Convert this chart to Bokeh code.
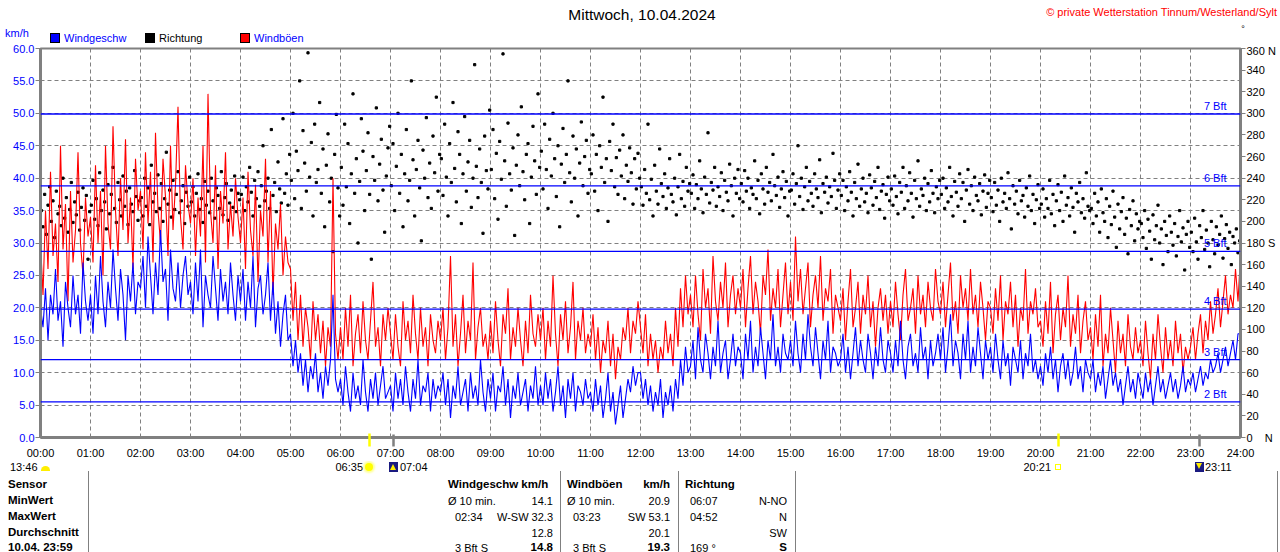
from bokeh.plotting import figure
from bokeh.models import (Range1d, LinearAxis, FixedTicker, Span, Label, Div,
                          PrintfTickFormatter, CustomJSTickFormatter)
from bokeh.layouts import column
from bokeh.embed import file_html
from bokeh.resources import INLINE

FONT = "Liberation Sans"

# ---------------- data ----------------
hours = list(range(25))
hour_labels = {h: f"{h:02d}:00" for h in hours}
kmh_ticks = list(range(0, 61, 5))
dir_ticks = list(range(0, 361, 20))
dir_labels = {0: "0\u00a0\u00a0\u00a0\u00a0N", 180: "180\u00a0S", 360: "360\u00a0N"}

bft_levels = [5.5, 12.0, 19.8, 28.7, 38.8, 49.9]
bft_names = ["2 Bft", "3 Bft", "4 Bft", "5 Bft", "6 Bft", "7 Bft"]

# wind speed km/h, 3-minute steps (20 per hour)
speed_h = [
    [20, 17, 23, 15, 22, 19, 26, 18, 21, 14, 24, 20, 17, 25, 19, 22, 16, 27, 21, 18],
    [22, 16, 25, 19, 28, 21, 17, 24, 20, 29, 23, 18, 26, 22, 15, 25, 21, 27, 19, 24],
    [23, 28, 20, 31, 25, 19, 27, 22, 32, 24, 26, 18, 29, 23, 21, 27, 20, 25, 28, 22],
    [24, 19, 27, 21, 29, 17, 25, 22, 20, 28, 23, 18, 26, 21, 24, 19, 27, 22, 18, 25],
    [21, 26, 18, 24, 20, 28, 17, 23, 25, 19, 22, 27, 18, 24, 16, 21, 14, 19, 22, 15],
    [16, 11, 15, 10, 13, 8, 12, 7, 11, 9, 13, 7, 10, 6, 11, 8, 12, 22, 9, 7],
    [9, 5, 11, 7, 4, 10, 6, 8, 5, 12, 7, 4, 9, 6, 10, 5, 8, 11, 6, 7],
    [8, 4, 10, 6, 9, 5, 11, 7, 4, 9, 6, 12, 5, 8, 7, 10, 4, 9, 6, 8],
    [7, 10, 5, 9, 3, 8, 6, 11, 5, 7, 9, 4, 10, 6, 8, 5, 12, 7, 4, 9],
    [6, 10, 4, 8, 7, 11, 5, 9, 3, 8, 6, 10, 5, 7, 9, 4, 8, 6, 11, 5],
    [8, 5, 10, 6, 9, 4, 7, 11, 5, 8, 3, 9, 6, 10, 4, 8, 7, 5, 9, 6],
    [7, 4, 9, 5, 8, 3, 6, 10, 4, 7, 2, 5, 8, 3, 6, 9, 7, 11, 8, 10],
    [10, 6, 9, 5, 8, 4, 7, 5, 9, 3, 7, 5, 8, 4, 9, 6, 12, 8, 14, 10],
    [11, 15, 9, 17, 12, 10, 16, 13, 9, 14, 11, 18, 10, 13, 15, 9, 12, 16, 11, 14],
    [13, 9, 16, 12, 18, 10, 14, 11, 17, 13, 9, 15, 12, 19, 11, 14, 10, 16, 13, 12],
    [15, 11, 18, 13, 10, 16, 12, 19, 14, 11, 17, 13, 9, 15, 12, 18, 10, 14, 13, 11],
    [12, 16, 10, 14, 9, 13, 17, 11, 15, 12, 10, 16, 13, 9, 14, 11, 17, 12, 10, 15],
    [13, 10, 15, 11, 18, 12, 9, 14, 16, 11, 13, 10, 17, 12, 14, 9, 15, 11, 13, 16],
    [12, 17, 10, 14, 19, 11, 15, 13, 9, 16, 12, 18, 10, 14, 11, 17, 13, 9, 15, 12],
    [14, 10, 16, 12, 9, 15, 11, 13, 8, 14, 12, 10, 15, 9, 13, 11, 16, 10, 12, 9],
    [11, 8, 13, 10, 14, 9, 12, 7, 11, 13, 9, 12, 8, 10, 14, 9, 11, 7, 12, 10],
    [9, 12, 7, 10, 8, 11, 6, 9, 12, 8, 10, 7, 9, 5, 8, 11, 7, 9, 6, 10],
    [8, 6, 10, 7, 9, 5, 8, 11, 7, 9, 6, 8, 10, 7, 9, 6, 8, 11, 7, 9],
    [8, 10, 7, 9, 11, 8, 10, 9, 12, 10, 11, 13, 10, 12, 14, 11, 13, 15, 12, 16],
]
speed_end = 16

# gusts km/h, 3-minute steps
gust_h = [
    [30, 22, 35, 26, 41, 28, 33, 24, 45, 29, 36, 21, 38, 27, 32, 44, 30, 25, 37, 31],
    [34, 27, 42, 30, 38, 25, 45, 33, 29, 48, 35, 28, 40, 32, 46, 30, 37, 26, 43, 35],
    [38, 29, 44, 33, 41, 27, 47, 35, 30, 43, 37, 28, 45, 32, 39, 51, 34, 29, 42, 36],
    [33, 40, 28, 37, 31, 45, 27, 53, 35, 30, 42, 26, 38, 33, 44, 29, 36, 31, 40, 34],
    [30, 37, 26, 41, 32, 28, 39, 24, 35, 31, 43, 27, 38, 22, 33, 29, 36, 25, 31, 27],
    [26, 18, 24, 15, 22, 14, 20, 17, 12, 21, 15, 19, 13, 18, 11, 17, 14, 40, 16, 12],
    [17, 12, 20, 14, 22, 11, 16, 19, 13, 21, 15, 12, 18, 24, 14, 17, 11, 19, 15, 20],
    [16, 12, 19, 14, 11, 21, 15, 18, 13, 22, 16, 12, 20, 14, 17, 11, 19, 15, 13, 18],
    [15, 20, 12, 17, 28, 14, 19, 11, 16, 22, 13, 18, 15, 27, 12, 17, 20, 14, 16, 12],
    [18, 13, 21, 15, 11, 19, 16, 23, 12, 17, 14, 20, 15, 11, 18, 13, 22, 16, 14, 19],
    [15, 20, 12, 18, 14, 25, 16, 11, 19, 15, 21, 13, 17, 24, 12, 18, 15, 20, 13, 16],
    [14, 19, 12, 17, 10, 15, 13, 18, 11, 16, 9, 14, 12, 17, 15, 20, 13, 18, 16, 21],
    [17, 13, 19, 11, 16, 12, 15, 10, 14, 12, 18, 13, 16, 11, 20, 14, 23, 17, 25, 19],
    [22, 17, 25, 19, 15, 26, 20, 23, 16, 28, 21, 18, 24, 20, 27, 17, 22, 25, 19, 23],
    [20, 26, 17, 23, 28, 19, 24, 21, 16, 25, 22, 29, 18, 23, 20, 26, 17, 22, 27, 19],
    [24, 18, 31, 21, 26, 19, 23, 27, 17, 22, 25, 20, 28, 18, 23, 21, 26, 16, 22, 20],
    [18, 23, 15, 21, 26, 17, 20, 24, 16, 22, 19, 25, 17, 21, 14, 20, 23, 18, 22, 16],
    [21, 17, 24, 19, 15, 22, 26, 18, 20, 23, 16, 25, 19, 22, 17, 24, 20, 18, 26, 21],
    [19, 24, 17, 22, 27, 18, 21, 16, 25, 20, 23, 18, 26, 19, 22, 17, 24, 20, 15, 21],
    [20, 16, 23, 18, 25, 15, 21, 19, 24, 17, 22, 14, 20, 18, 26, 16, 21, 19, 23, 17],
    [18, 14, 21, 16, 24, 13, 19, 22, 15, 20, 17, 25, 14, 19, 16, 22, 13, 18, 21, 15],
    [17, 12, 19, 14, 22, 11, 16, 13, 20, 15, 10, 18, 13, 16, 11, 19, 14, 12, 17, 13],
    [15, 11, 18, 13, 9, 16, 12, 19, 14, 10, 17, 12, 15, 11, 18, 13, 16, 10, 14, 12],
    [14, 17, 12, 16, 19, 13, 18, 15, 21, 16, 19, 23, 17, 21, 25, 19, 22, 20, 26, 21],
]
gust_end = 28

# wind direction in degrees, 2-minute samples (30 per hour)
dir_h = [
    [210, 195, 225, 188, 215, 232, 200, 219, 185, 228, 207, 214, 196, 240, 203, 222, 190, 211, 236, 199, 218, 206, 227, 192, 213, 231, 201, 224, 165, 209],
    [215, 238, 202, 221, 196, 245, 210, 229, 218, 193, 234, 207, 225, 250, 212, 199, 236, 220, 205, 242, 214, 228, 197, 231, 216, 209, 247, 223, 201, 219],
    [222, 205, 240, 214, 231, 197, 252, 218, 226, 209, 243, 212, 235, 200, 221, 264, 216, 229, 204, 238, 211, 225, 246, 208, 219, 233, 198, 227, 214, 241],
    [218, 232, 205, 226, 244, 211, 221, 199, 237, 215, 228, 208, 240, 219, 203, 231, 224, 212, 246, 206, 222, 235, 201, 217, 229, 213, 242, 209, 226, 220],
    [225, 241, 210, 232, 218, 250, 227, 205, 238, 221, 246, 214, 233, 270, 219, 228, 240, 212, 285, 224, 236, 209, 255, 230, 217, 295, 226, 244, 215, 262],
    [238, 300, 221, 265, 247, 330, 212, 284, 254, 228, 356, 241, 273, 205, 290, 236, 248, 310, 226, 267, 195, 252, 281, 218, 240, 172, 262, 299, 231, 205],
    [250, 215, 290, 232, 272, 198, 244, 318, 226, 258, 180, 237, 295, 265, 210, 247, 282, 225, 165, 260, 238, 305, 219, 253, 276, 229, 190, 242, 268, 288],
    [233, 272, 210, 251, 300, 226, 262, 195, 244, 285, 219, 238, 330, 257, 205, 248, 275, 231, 182, 266, 240, 296, 222, 254, 212, 279, 245, 315, 228, 262],
    [258, 224, 290, 241, 205, 272, 236, 310, 249, 218, 283, 262, 198, 244, 297, 228, 255, 275, 213, 240, 345, 251, 222, 267, 236, 189, 279, 247, 230, 303],
    [248, 285, 221, 263, 202, 274, 239, 355, 256, 214, 291, 244, 229, 268, 187, 252, 280, 233, 306, 246, 220, 262, 272, 198, 241, 288, 256, 225, 318, 250],
    [265, 230, 290, 248, 212, 276, 242, 300, 258, 223, 270, 195, 253, 286, 236, 262, 330, 245, 218, 279, 240, 267, 205, 254, 292, 233, 260, 275, 226, 248],
    [244, 280, 228, 262, 210, 270, 250, 315, 236, 258, 200, 274, 247, 290, 232, 259, 225, 266, 242, 280, 221, 252, 237, 268, 245, 216, 258, 230, 263, 240],
    [232, 215, 248, 226, 290, 220, 239, 205, 252, 228, 216, 267, 235, 223, 244, 212, 231, 258, 225, 218, 240, 206, 232, 262, 221, 237, 214, 250, 228, 235],
    [226, 243, 212, 234, 221, 256, 230, 208, 241, 225, 282, 217, 236, 229, 250, 214, 232, 223, 245, 210, 238, 227, 219, 253, 233, 205, 240, 226, 248, 221],
    [235, 218, 247, 228, 240, 212, 231, 225, 256, 221, 238, 207, 244, 230, 216, 250, 227, 236, 219, 262, 233, 224, 241, 213, 230, 246, 222, 237, 205, 228],
    [229, 244, 216, 235, 270, 223, 240, 211, 232, 250, 219, 237, 226, 214, 244, 230, 222, 257, 208, 235, 227, 241, 217, 232, 223, 263, 238, 212, 229, 244],
    [224, 238, 210, 232, 219, 246, 227, 205, 236, 221, 253, 214, 230, 240, 218, 226, 208, 243, 231, 215, 237, 222, 250, 211, 228, 234, 203, 225, 241, 219],
    [230, 215, 242, 223, 207, 236, 227, 250, 212, 233, 219, 245, 226, 204, 238, 221, 256, 214, 230, 224, 240, 210, 235, 218, 247, 226, 208, 232, 221, 238],
    [225, 240, 212, 231, 218, 250, 223, 205, 237, 227, 214, 244, 221, 236, 200, 229, 248, 216, 233, 210, 241, 224, 219, 235, 206, 228, 243, 213, 226, 238],
    [222, 209, 236, 215, 229, 200, 240, 218, 226, 212, 245, 221, 193, 233, 216, 228, 207, 238, 219, 224, 204, 231, 214, 242, 210, 225, 198, 220, 234, 212],
    [216, 230, 204, 221, 212, 238, 207, 225, 196, 219, 234, 210, 227, 200, 242, 215, 222, 205, 231, 213, 190, 226, 218, 236, 208, 221, 203, 245, 214, 210],
    [212, 198, 226, 205, 218, 190, 230, 208, 200, 221, 185, 214, 197, 228, 204, 176, 216, 193, 209, 222, 188, 203, 170, 211, 196, 219, 182, 207, 193, 200],
    [198, 185, 210, 175, 202, 191, 165, 206, 183, 196, 215, 180, 193, 160, 200, 187, 172, 205, 190, 178, 198, 168, 186, 210, 181, 194, 155, 188, 200, 176],
    [190, 172, 203, 181, 165, 196, 185, 210, 174, 192, 180, 158, 200, 183, 170, 195, 178, 188, 205, 166, 184, 197, 175, 190, 160, 186, 180, 193, 171, 182],
]

speed = [v for row in speed_h for v in row] + [speed_end]
gust = [v for row in gust_h for v in row] + [gust_end]
direction = [v for row in dir_h for v in row]
t_speed = [i / 20 for i in range(len(speed))]
t_dir = [(i + 0.5) / 30 for i in range(len(direction))]

# sun / moon times (hours)
sunrise, sunset = 6 + 35 / 60, 20 + 21 / 60
moonrise, moonset = 7 + 4 / 60, 23 + 11 / 60

# statistics table
row_names = ["Sensor", "MinWert", "MaxWert", "Durchschnitt", "10.04. 23:59"]

GRAY = "#808080"
BLUE = "#0000FF"
RED = "#FF0000"
YELLOW = "#FFFF00"
NAVY = "#1a1a80"
W = 1280
TOP_H = 44          # header strip height
MAIN_TOP = 4
FRAME_H = 389
MAIN_BOTTOM = 24
BOT_Y0 = TOP_H + MAIN_TOP + FRAME_H + MAIN_BOTTOM
X0, PX_PER_H = 40, 50   # time axis position (page px) for the sun/moon icons
SUN_ROW = 467


# ---------------- html helpers for header / table strips ----------------
def t(s, X, Y, y0, size=11, color="black", bold=False, align="left"):
    top = Y - y0 - size / 2
    st = (f"position:absolute;top:{top:.1f}px;font-size:{size}px;line-height:{size}px;"
          f"color:{color};white-space:nowrap;font-weight:{'bold' if bold else 'normal'};")
    if align == "left":
        st += f"left:{X}px;"
    elif align == "right":
        st += f"right:{W - X}px;"
    else:
        st += f"left:{X}px;transform:translateX(-50%);"
    return f'<span style="{st}">{s}</span>'


def box(X, Y, w, h, y0, bg="none", border="none", extra=""):
    return (f'<span style="position:absolute;left:{X - w / 2:.1f}px;top:{Y - y0 - h / 2:.1f}px;'
            f'width:{w}px;height:{h}px;background:{bg};border:{border};box-sizing:border-box;'
            f'{extra}"></span>')


def strip(elems, h):
    html = (f'<div style="position:relative;width:{W}px;height:{h}px;overflow:hidden;'
            f'font-family:\'{FONT}\';background:white;">' + "".join(elems) + "</div>")
    return Div(text=html, width=W, height=h, margin=0, styles={"margin": "0", "padding": "0"})


# ---------------- header strip ----------------
hdr = [
    t("Mittwoch, 10.04.2024", 642, 15, 0, size=15.5, align="center"),
    t("\u00a9 private Wetterstation Tinnum/Westerland/Sylt", 1277, 12, 0, color=RED, align="right"),
    t("\u00b0", 1243, 29, 0, size=9, align="center"),
    t("km/h", 5, 33, 0, color=BLUE),
    box(55, 37.5, 10, 10, 0, bg=BLUE, border="1px solid black"),
    t("Windgeschw", 64, 38, 0, color=BLUE),
    box(150, 37.5, 10, 10, 0, bg="black", border="1px solid black"),
    t("Richtung", 159, 38, 0),
    box(245, 37.5, 10, 10, 0, bg=RED, border="1px solid black"),
    t("Windb\u00f6en", 254, 38, 0, color=BLUE),
]
top = strip(hdr, TOP_H)

# ---------------- main chart ----------------
p = figure(frame_width=1200, frame_height=FRAME_H,
           x_range=Range1d(0, 24), y_range=Range1d(0, 60),
           output_backend="svg", toolbar_location=None,
           min_border_left=40, min_border_right=40, min_border_top=MAIN_TOP,
           min_border_bottom=MAIN_BOTTOM,
           background_fill_color="white", border_fill_color="white")
p.extra_y_ranges = {"dir": Range1d(0, 360)}
p.outline_line_color = GRAY
p.outline_line_width = 2

# axis next to the frame: sun (yellow) and moon (gray) markers
xa = p.xaxis[0]
xa.ticker = FixedTicker(ticks=[sunrise, sunset], minor_ticks=[moonrise, moonset])
xa.formatter = CustomJSTickFormatter(code="return ''")
xa.major_label_text_font_size = "1px"
xa.major_label_standoff = 0
xa.major_tick_line_color = YELLOW
xa.major_tick_line_width = 2.5
xa.major_tick_out = 9
xa.major_tick_in = 4
xa.minor_tick_line_color = GRAY
xa.minor_tick_line_width = 2.5
xa.minor_tick_out = 9
xa.minor_tick_in = 3
xa.axis_line_color = GRAY
xa.axis_line_width = 3

# hour labels
hb = LinearAxis(ticker=FixedTicker(ticks=hours))
hb.major_label_overrides = hour_labels
hb.axis_line_color = None
hb.major_tick_line_color = None
hb.minor_tick_line_color = None
hb.major_tick_out = 0
hb.major_tick_in = 0
hb.major_label_standoff = 0
hb.major_label_text_font = FONT
hb.major_label_text_font_size = "11px"
hb.major_label_text_color = "black"
p.add_layout(hb, "below")

# left axis
ya = p.yaxis[0]
ya.ticker = FixedTicker(ticks=kmh_ticks)
ya.formatter = PrintfTickFormatter(format="%.1f")
ya.major_tick_out = 5
ya.major_tick_in = 0
ya.major_tick_line_color = GRAY
ya.minor_tick_line_color = None
ya.axis_line_color = GRAY
ya.axis_line_width = 3
ya.major_label_standoff = 1
ya.major_label_text_font = FONT
ya.major_label_text_font_size = "11px"
ya.major_label_text_color = BLUE

# right axis
ra = LinearAxis(y_range_name="dir", ticker=FixedTicker(ticks=dir_ticks))
ra.major_label_overrides = dir_labels
ra.major_tick_out = 5
ra.major_tick_in = 0
ra.major_tick_line_color = GRAY
ra.minor_tick_line_color = None
ra.axis_line_color = GRAY
ra.axis_line_width = 3
ra.major_label_standoff = 1
ra.major_label_text_font = FONT
ra.major_label_text_font_size = "11px"
ra.major_label_text_color = "black"
p.add_layout(ra, "right")

p.xgrid[0].ticker = FixedTicker(ticks=hours)
for g in (p.xgrid[0], p.ygrid[0]):
    g.grid_line_color = GRAY
    g.grid_line_dash = "4 3"
    g.grid_line_width = 1

# Beaufort lines
for lev, name in zip(bft_levels, bft_names):
    p.add_layout(Span(location=lev, dimension="width", line_color=BLUE, line_width=1.3))
    p.add_layout(Label(x=1186, y=lev, x_units="screen", y_units="data", y_offset=2,
                       text=name, text_align="right", text_baseline="bottom",
                       text_color=BLUE, text_font=FONT, text_font_size="11px"))

# data
p.scatter(t_dir, direction, y_range_name="dir", marker="square", size=2.2,
          color="black")
p.line(t_speed, gust, line_color=RED, line_width=1.1)
p.line(t_speed, speed, line_color=BLUE, line_width=1.1)

# ---------------- bottom strip: sun/moon row and statistics table ----------------
y0 = BOT_Y0
bot_h = 552 - BOT_Y0


def tx(h):
    return X0 + PX_PER_H * h


row_y = [485, 501, 517, 533, 548]
ry = SUN_ROW
el = [
    t("13:46", 10, ry, y0),
    box(45, ry + 1, 9, 5, y0, bg="#FFEE00", extra="border-radius:5px 5px 0 0;"),
    t("06:35", 363, ry, y0, align="right"),
    box(tx(sunrise), ry, 8, 8, y0, bg=YELLOW,
        extra="border-radius:50%;box-shadow:0 0 2px 2px #ffff99;"),
    box(tx(moonrise), ry - 0.5, 9, 10, y0, bg=NAVY),
    box(tx(moonrise), ry, 0, 0, y0,
        extra="border-left:3px solid transparent;border-right:3px solid transparent;"
              "border-bottom:6px solid #FFEE00;left:%.1fpx;top:%.1fpx;" % (tx(moonrise) - 3, ry - y0 - 3)),
    t("07:04", 400, ry, y0),
    t("20:21", 1051, ry, y0, align="right"),
    box(tx(sunset), ry, 6, 6, y0, border="1px solid " + YELLOW),
    box(tx(moonset), ry - 0.5, 9, 10, y0, bg=NAVY),
    box(tx(moonset), ry, 0, 0, y0,
        extra="border-left:3px solid transparent;border-right:3px solid transparent;"
              "border-top:6px solid #FFEE00;left:%.1fpx;top:%.1fpx;" % (tx(moonset) - 3, ry - y0 - 4)),
    t("23:11", 1205, ry, y0),
]
for name, y in zip(row_names, row_y):
    el.append(t(name, 8, y, y0, size=11.5, bold=True))
for X in (88, 560, 678, 795, 1277):
    el.append(f'<span style="position:absolute;left:{X}px;top:{471 - y0}px;width:1px;'
              f'height:{552 - 471}px;background:{GRAY};"></span>')

cells = [
    ("Windgeschw km/h", 448, 0, "l", True),
    ("\u00d8 10 min.", 448, 1, "l", False),
    ("14.1", 553, 1, "r", False),
    ("02:34", 455, 2, "l", False),
    ("W-SW 32.3", 553, 2, "r", False),
    ("12.8", 553, 3, "r", False),
    ("3 Bft S", 455, 4, "l", False),
    ("14.8", 553, 4, "r", True),
    ("Windb\u00f6en", 567, 0, "l", True),
    ("km/h", 670, 0, "r", True),
    ("\u00d8 10 min.", 567, 1, "l", False),
    ("20.9", 670, 1, "r", False),
    ("03:23", 573, 2, "l", False),
    ("SW 53.1", 670, 2, "r", False),
    ("20.1", 670, 3, "r", False),
    ("3 Bft S", 573, 4, "l", False),
    ("19.3", 670, 4, "r", True),
    ("Richtung", 685, 0, "l", True),
    ("06:07", 690, 1, "l", False),
    ("N-NO", 787, 1, "r", False),
    ("04:52", 690, 2, "l", False),
    ("N", 787, 2, "r", False),
    ("SW", 787, 3, "r", False),
    ("169 \u00b0", 690, 4, "l", False),
    ("S", 787, 4, "r", True),
]
for s, X, r, a, b in cells:
    el.append(t(s, X, row_y[r], y0, size=11.5 if b else 11, bold=b,
                align="left" if a == "l" else "right"))

bot = strip(el, bot_h)

layout = column(top, p, bot, spacing=0)
open("out.html", "w").write(file_html(layout, INLINE))
